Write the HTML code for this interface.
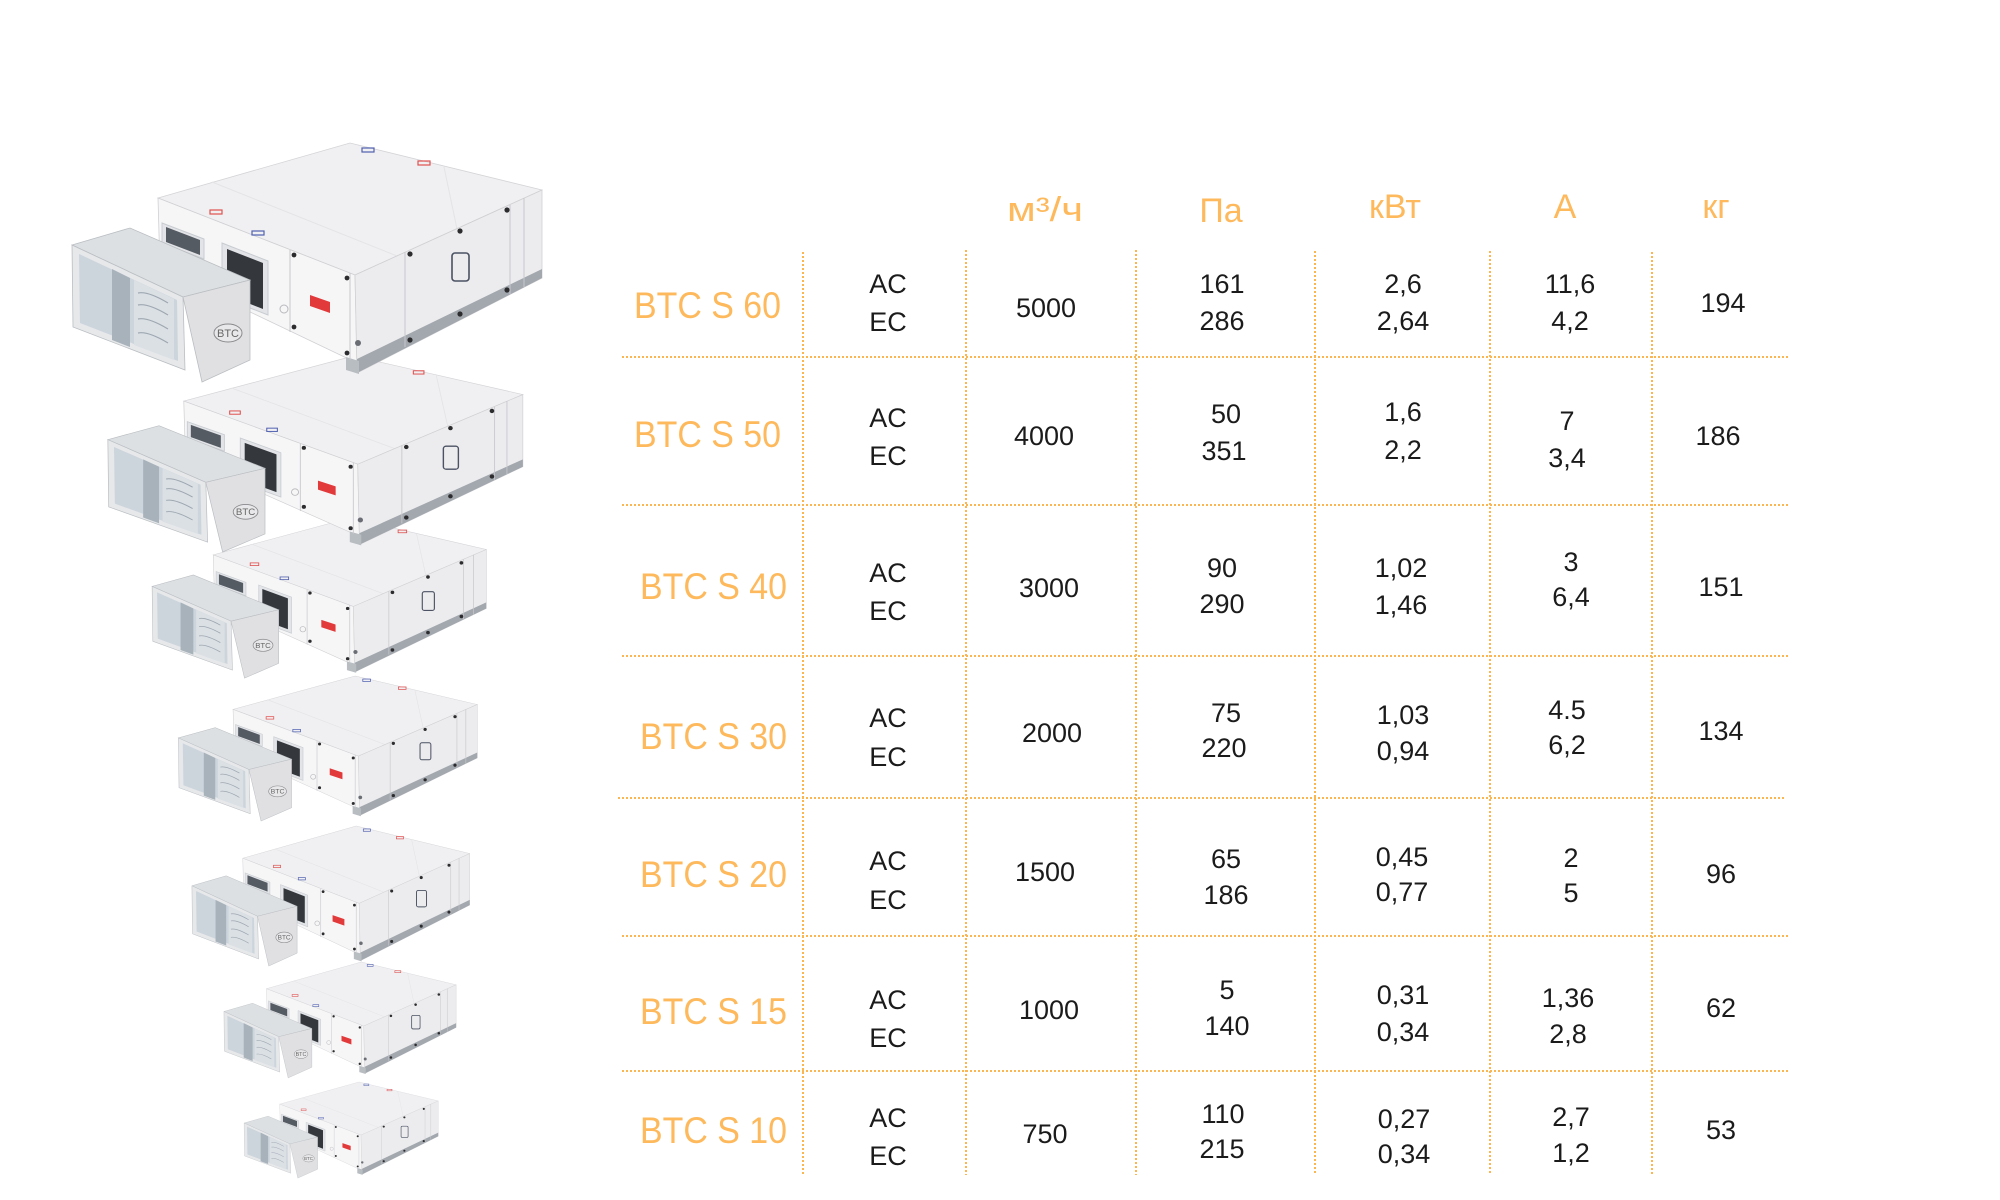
<!DOCTYPE html>
<html><head><meta charset="utf-8"><style>
html,body{margin:0;padding:0;background:#fff;}
svg{display:block;}
text{font-family:"Liberation Sans","DejaVu Sans",sans-serif;}
.o{fill:#fdb95c;}
.d{fill:#1b1b1b;font-size:27px;text-anchor:middle;}
.h{fill:#fdb95c;font-size:34px;text-anchor:middle;}
</style></head><body>
<svg width="2000" height="1200" viewBox="0 0 2000 1200" xmlns="http://www.w3.org/2000/svg">
<defs>
<g id="unit">
 <polygon points="96,55 288,0 480,47 293,132" fill="#f0f0f2" stroke="#d4d4d8" stroke-width="0.8"/>
 <line x1="150" y1="39" x2="340" y2="115" stroke="#e4e4e7" stroke-width="1"/>
 <line x1="382" y1="24" x2="395" y2="86" stroke="#e4e4e7" stroke-width="1"/>
 <rect x="300" y="5" width="12" height="4" fill="none" stroke="#5060b0" stroke-width="1.2"/>
 <rect x="356" y="18" width="12" height="4" fill="none" stroke="#e05050" stroke-width="1.2"/>
 <polygon points="96,55 293,132 295,220 98,126" fill="#f6f6f7" stroke="#d0d0d4" stroke-width="0.8"/>
 <polygon points="293,132 480,47 480,135 295,230" fill="#ececee" stroke="#d0d0d4" stroke-width="0.8"/>
 <polygon points="295,216 480,126 480,135 295,230" fill="#a2a8ae"/>
 <polygon points="284,214 297,218 297,231 284,227" fill="#b8bdc2"/>
 <g stroke="#c8c8cd" stroke-width="1">
  <line x1="343" y1="109" x2="343" y2="204"/>
  <line x1="448" y1="62" x2="448" y2="151"/>
  <line x1="462" y1="55" x2="462" y2="144"/>
  <line x1="228" y1="107" x2="228" y2="189"/>
  <line x1="288" y1="130" x2="288" y2="217"/>
 </g>
 <rect x="390" y="110" width="17" height="28" rx="3" fill="none" stroke="#4b5263" stroke-width="1.6"/>
 <g fill="#2c2c2e">
  <circle cx="348" cy="111" r="2.6"/><circle cx="348" cy="197" r="2.6"/>
  <circle cx="398" cy="88" r="2.6"/><circle cx="398" cy="171" r="2.6"/>
  <circle cx="445" cy="67" r="2.6"/><circle cx="445" cy="147" r="2.6"/>
  <circle cx="232" cy="112" r="2.4"/><circle cx="232" cy="184" r="2.4"/>
  <circle cx="285" cy="135" r="2.4"/><circle cx="285" cy="210" r="2.4"/>
 </g>
 <rect x="148" y="67" width="12" height="4" fill="none" stroke="#e05050" stroke-width="1.2"/>
 <rect x="190" y="88" width="12" height="4" fill="none" stroke="#5060b0" stroke-width="1.2"/>
 <polygon points="100,80 142,96 142,116 100,100" fill="#e2e4e8" stroke="#c8ccd0" stroke-width="1"/>
 <polygon points="104,84 138,97 138,112 104,99" fill="#555b63"/>
 <polygon points="160,100 206,118 206,172 160,154" fill="#e2e4e8" stroke="#c8ccd0" stroke-width="1"/>
 <polygon points="165,106 201,120 201,166 165,152" fill="#34383d"/>
 <polygon points="248,152 268,159 268,170 248,163" fill="#e23a3a"/>
 <circle cx="222" cy="166" r="4" fill="none" stroke="#b8b8bc" stroke-width="1"/>
 <circle cx="296" cy="200" r="3" fill="#6a6e74"/>
 <!-- duct -->
 <polygon points="10,102 68,85 188,137 121,154" fill="#dde0e3" stroke="#babec2" stroke-width="0.8"/>
 <polygon points="10,102 121,154 123,227 11,184" fill="#e6e8ea" stroke="#babec2" stroke-width="0.8"/>
 <polygon points="17,111 115,157 116,218 18,180" fill="#ccd4dc"/>
 <polygon points="50,126 68,135 68,204 50,197" fill="#a8b2bb"/>
 <polygon points="72,137 112,156 112,217 72,202" fill="#dbe0e5"/>
 <g fill="none" stroke="#9ea7b0" stroke-width="1.2">
  <path d="M76,150 q10,-2 30,10"/><path d="M76,162 q10,-2 30,10"/><path d="M76,176 q10,-2 30,10"/><path d="M76,190 q10,-2 30,10"/>
 </g>
 <polygon points="121,154 188,137 188,217 140,239" fill="#e0e0e2" stroke="#babec2" stroke-width="0.8"/>
 <ellipse cx="166" cy="190" rx="14" ry="9" fill="#e8e8ea" stroke="#8a8a8e" stroke-width="1"/>
 <text x="166" y="194" font-size="11" fill="#666" text-anchor="middle">BTC</text>
</g>
</defs>

<!-- product units (bottom to top for overlap) -->
<use href="#unit" transform="translate(240,1082) scale(0.413,0.402)"/>
<use href="#unit" transform="translate(219,962) scale(0.494,0.485)"/>
<use href="#unit" transform="translate(186,826) scale(0.591,0.586)"/>
<use href="#unit" transform="translate(172,676) scale(0.636,0.607)"/>
<use href="#unit" transform="translate(145,518) scale(0.711,0.67)"/>
<use href="#unit" transform="translate(99,356) scale(0.883,0.82)"/>
<use href="#unit" transform="translate(62,143)"/>

<!-- grid -->
<g stroke="#fdb54f" stroke-width="2" stroke-dasharray="2 2">
 <line x1="803" y1="252" x2="803" y2="1175"/>
 <line x1="966" y1="250" x2="966" y2="1175"/>
 <line x1="1136" y1="250" x2="1136" y2="1175"/>
 <line x1="1315" y1="251" x2="1315" y2="1175"/>
 <line x1="1490" y1="251" x2="1490" y2="1175"/>
 <line x1="1652" y1="252" x2="1652" y2="1175"/>
 <line x1="622" y1="357" x2="1788" y2="357"/>
 <line x1="622" y1="505" x2="1788" y2="505"/>
 <line x1="622" y1="656" x2="1788" y2="656"/>
 <line x1="618" y1="798" x2="1784" y2="798"/>
 <line x1="622" y1="936" x2="1788" y2="936"/>
 <line x1="622" y1="1071" x2="1788" y2="1071"/>
</g>

<!-- headers -->
<text class="h" x="1045" y="221" textLength="76" lengthAdjust="spacingAndGlyphs">м³/ч</text>
<text class="h" x="1221" y="222">Па</text>
<text class="h" x="1395" y="218">кВт</text>
<text class="h" x="1565" y="218">А</text>
<text class="h" x="1716" y="218">кг</text>

<!-- labels -->
<g class="o" font-size="37">
 <text x="634" y="318" textLength="147" lengthAdjust="spacingAndGlyphs">BTC S 60</text>
 <text x="634" y="447" textLength="147" lengthAdjust="spacingAndGlyphs">BTC S 50</text>
 <text x="640" y="599" textLength="147" lengthAdjust="spacingAndGlyphs">BTC S 40</text>
 <text x="640" y="749" textLength="147" lengthAdjust="spacingAndGlyphs">BTC S 30</text>
 <text x="640" y="887" textLength="147" lengthAdjust="spacingAndGlyphs">BTC S 20</text>
 <text x="640" y="1024" textLength="147" lengthAdjust="spacingAndGlyphs">BTC S 15</text>
 <text x="640" y="1143" textLength="147" lengthAdjust="spacingAndGlyphs">BTC S 10</text>
</g>

<!-- row 1 -->
<text class="d" x="888" y="293">AC</text><text class="d" x="888" y="331">EC</text>
<text class="d" x="1046" y="317">5000</text>
<text class="d" x="1222" y="293">161</text><text class="d" x="1222" y="330">286</text>
<text class="d" x="1403" y="293">2,6</text><text class="d" x="1403" y="330">2,64</text>
<text class="d" x="1570" y="293">11,6</text><text class="d" x="1570" y="330">4,2</text>
<text class="d" x="1723" y="312">194</text>
<!-- row 2 -->
<text class="d" x="888" y="427">AC</text><text class="d" x="888" y="465">EC</text>
<text class="d" x="1044" y="445">4000</text>
<text class="d" x="1226" y="423">50</text><text class="d" x="1224" y="460">351</text>
<text class="d" x="1403" y="421">1,6</text><text class="d" x="1403" y="459">2,2</text>
<text class="d" x="1567" y="430">7</text><text class="d" x="1567" y="467">3,4</text>
<text class="d" x="1718" y="445">186</text>
<!-- row 3 -->
<text class="d" x="888" y="582">AC</text><text class="d" x="888" y="620">EC</text>
<text class="d" x="1049" y="597">3000</text>
<text class="d" x="1222" y="577">90</text><text class="d" x="1222" y="613">290</text>
<text class="d" x="1401" y="577">1,02</text><text class="d" x="1401" y="614">1,46</text>
<text class="d" x="1571" y="571">3</text><text class="d" x="1571" y="606">6,4</text>
<text class="d" x="1721" y="596">151</text>
<!-- row 4 -->
<text class="d" x="888" y="727">AC</text><text class="d" x="888" y="766">EC</text>
<text class="d" x="1052" y="742">2000</text>
<text class="d" x="1226" y="722">75</text><text class="d" x="1224" y="757">220</text>
<text class="d" x="1403" y="724">1,03</text><text class="d" x="1403" y="760">0,94</text>
<text class="d" x="1567" y="719">4.5</text><text class="d" x="1567" y="754">6,2</text>
<text class="d" x="1721" y="740">134</text>
<!-- row 5 -->
<text class="d" x="888" y="870">AC</text><text class="d" x="888" y="909">EC</text>
<text class="d" x="1045" y="881">1500</text>
<text class="d" x="1226" y="868">65</text><text class="d" x="1226" y="904">186</text>
<text class="d" x="1402" y="866">0,45</text><text class="d" x="1402" y="901">0,77</text>
<text class="d" x="1571" y="867">2</text><text class="d" x="1571" y="902">5</text>
<text class="d" x="1721" y="883">96</text>
<!-- row 6 -->
<text class="d" x="888" y="1009">AC</text><text class="d" x="888" y="1047">EC</text>
<text class="d" x="1049" y="1019">1000</text>
<text class="d" x="1227" y="999">5</text><text class="d" x="1227" y="1035">140</text>
<text class="d" x="1403" y="1004">0,31</text><text class="d" x="1403" y="1041">0,34</text>
<text class="d" x="1568" y="1007">1,36</text><text class="d" x="1568" y="1043">2,8</text>
<text class="d" x="1721" y="1017">62</text>
<!-- row 7 -->
<text class="d" x="888" y="1127">AC</text><text class="d" x="888" y="1165">EC</text>
<text class="d" x="1045" y="1143">750</text>
<text class="d" x="1223" y="1123">110</text><text class="d" x="1222" y="1158">215</text>
<text class="d" x="1404" y="1128">0,27</text><text class="d" x="1404" y="1163">0,34</text>
<text class="d" x="1571" y="1126">2,7</text><text class="d" x="1571" y="1162">1,2</text>
<text class="d" x="1721" y="1139">53</text>
</svg>
</body></html>
